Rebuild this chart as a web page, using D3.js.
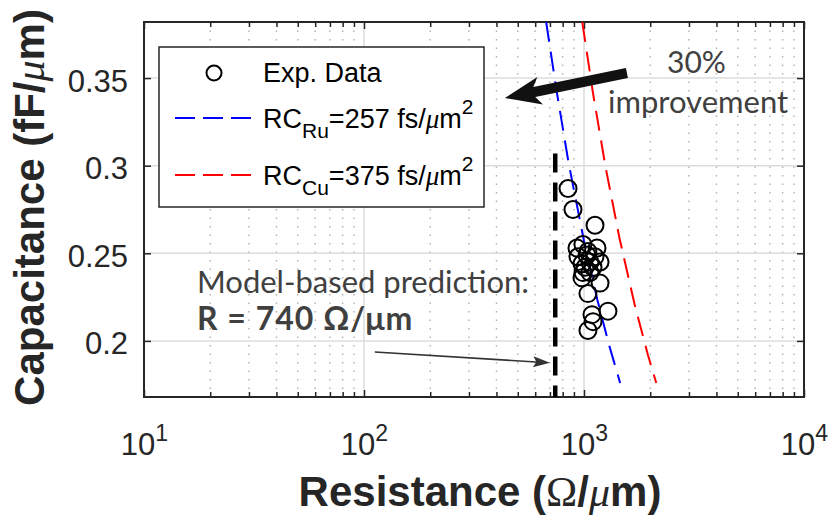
<!DOCTYPE html>
<html>
<head>
<meta charset="utf-8">
<script src="https://cdnjs.cloudflare.com/ajax/libs/d3/7.8.5/d3.min.js"></script>
<style>
  body { margin: 0; background: #fff; }
  svg { display: block; }
</style>
</head>
<body>
<div id="chart"></div>
<script>
// measured data (R in ohm/um, C in fF/um)
var expResistance = [846, 891, 1122, 929, 989, 1146, 939, 1032, 1064, 979, 1183, 1099,
                     989, 1064, 979, 1183, 1042, 1285, 1087, 1099, 1042, 1042, 1122, 1011];
var expCapacitance = [0.287, 0.275, 0.266, 0.253, 0.255, 0.253, 0.248, 0.249, 0.245, 0.244, 0.245, 0.242,
                      0.239, 0.239, 0.236, 0.233, 0.227, 0.217, 0.215, 0.211, 0.206, 0.251, 0.248, 0.242];

// RC lines
var ruLineR = [673, 750, 850, 1000, 1150, 1300, 1460];
var ruLineC = [0.382, 0.343, 0.302, 0.257, 0.2235, 0.1977, 0.176];
var cuLineR = [982, 1100, 1250, 1450, 1700, 1950, 2130];
var cuLineC = [0.382, 0.341, 0.300, 0.2586, 0.2206, 0.1923, 0.176];

var predictionR = 740;
var predictionC = [0.168, 0.307];

var xTickValues = [10, 100, 1000, 10000];
var xTickExponents = ["1", "2", "3", "4"];
var yTickValues = [0.2, 0.25, 0.3, 0.35];
var yTickLabels = ["0.2", "0.25", "0.3", "0.35"];

var width = 828;
var height = 517;
var margin = { top: 22, right: 24, bottom: 120, left: 144 };
var axisFont = "'Liberation Sans', Arial, Helvetica, sans-serif";
var serifFont = "'Liberation Serif', 'Times New Roman', serif";
var noteFont = "Lato, 'Open Sans', sans-serif";

var x = d3.scaleLog().domain([10, 10000]).range([margin.left, width - margin.right]);
var y = d3.scaleLinear().domain([0.168, 0.382]).range([height - margin.bottom, margin.top]);

var minorX = [];
[10, 100, 1000].forEach(function (d) {
  for (var k = 2; k <= 9; k++) minorX.push(d * k);
});

var svg = d3.select("#chart").append("svg").attr("width", width).attr("height", height);

svg.append("defs").append("clipPath").attr("id", "plotclip")
  .append("rect")
  .attr("x", x.range()[0]).attr("y", y.range()[1])
  .attr("width", x.range()[1] - x.range()[0])
  .attr("height", y.range()[0] - y.range()[1]);

// grid
var grid = svg.append("g");
grid.selectAll(".minor").data(minorX).enter().append("line")
  .attr("x1", x).attr("x2", x)
  .attr("y1", y.range()[1]).attr("y2", y.range()[0])
  .attr("stroke", "#b0b0b0").attr("stroke-width", 1.4)
  .attr("stroke-dasharray", "1.5,7");
grid.selectAll(".majorx").data([100, 1000]).enter().append("line")
  .attr("x1", x).attr("x2", x)
  .attr("y1", y.range()[1]).attr("y2", y.range()[0])
  .attr("stroke", "#dcdcdc").attr("stroke-width", 1.5);
grid.selectAll(".majory").data(yTickValues).enter().append("line")
  .attr("x1", x.range()[0]).attr("x2", x.range()[1])
  .attr("y1", y).attr("y2", y)
  .attr("stroke", "#dcdcdc").attr("stroke-width", 1.5);

// ticks on all four sides
function styleAxis(g) {
  g.select(".domain").remove();
  g.selectAll("line").attr("stroke", "#262626").attr("stroke-width", 1.5);
}
var bottom = svg.append("g").attr("transform", "translate(0," + y.range()[0] + ")")
  .call(d3.axisBottom(x).tickValues(xTickValues).tickSize(-7).tickPadding(36).tickFormat(""))
  .call(styleAxis);
svg.append("g").attr("transform", "translate(0," + y.range()[0] + ")")
  .call(d3.axisBottom(x).tickValues(minorX).tickSize(-5).tickFormat(""))
  .call(styleAxis);
svg.append("g").attr("transform", "translate(0," + y.range()[1] + ")")
  .call(d3.axisTop(x).tickValues(xTickValues).tickSize(-7).tickFormat(""))
  .call(styleAxis);
svg.append("g").attr("transform", "translate(0," + y.range()[1] + ")")
  .call(d3.axisTop(x).tickValues(minorX).tickSize(-5).tickFormat(""))
  .call(styleAxis);
var left = svg.append("g").attr("transform", "translate(" + x.range()[0] + ",0)")
  .call(d3.axisLeft(y).tickValues(yTickValues).tickSize(-7).tickPadding(16)
    .tickFormat(function (d, i) { return yTickLabels[i]; }))
  .call(styleAxis);
svg.append("g").attr("transform", "translate(" + x.range()[1] + ",0)")
  .call(d3.axisRight(y).tickValues(yTickValues).tickSize(-7).tickFormat(""))
  .call(styleAxis);

left.selectAll("text")
  .attr("font-family", axisFont).attr("font-size", 31).attr("fill", "#262626")
  .attr("dy", "0.42em");

bottom.selectAll(".tick text")
  .attr("font-family", axisFont).attr("font-size", 31).attr("fill", "#262626")
  .attr("dy", "0.71em")
  .each(function (d, i) {
    var t = d3.select(this);
    t.append("tspan").text("10");
    t.append("tspan").attr("font-size", 23).attr("dy", -14).text(xTickExponents[i]);
  });

// axes box
svg.append("rect")
  .attr("x", x.range()[0]).attr("y", y.range()[1])
  .attr("width", x.range()[1] - x.range()[0])
  .attr("height", y.range()[0] - y.range()[1])
  .attr("fill", "none").attr("stroke", "#262626").attr("stroke-width", 2);

// lines
var plot = svg.append("g").attr("clip-path", "url(#plotclip)");
var line = d3.line().x(function (d) { return x(d[0]); }).y(function (d) { return y(d[1]); });

plot.append("path")
  .datum(ruLineR.map(function (r, i) { return [r, ruLineC[i]]; }))
  .attr("d", line).attr("fill", "none")
  .attr("stroke", "#0000ff").attr("stroke-width", 2).attr("stroke-dasharray", "20,10");
plot.append("path")
  .datum(cuLineR.map(function (r, i) { return [r, cuLineC[i]]; }))
  .attr("d", line).attr("fill", "none")
  .attr("stroke", "#ff0000").attr("stroke-width", 2).attr("stroke-dasharray", "20,10");

plot.append("line")
  .attr("x1", x(predictionR)).attr("x2", x(predictionR))
  .attr("y1", y(predictionC[1])).attr("y2", y(predictionC[0]))
  .attr("stroke", "#000").attr("stroke-width", 4.5).attr("stroke-dasharray", "19,10");

plot.selectAll(".pt").data(expResistance).enter().append("circle")
  .attr("cx", function (d) { return x(d); })
  .attr("cy", function (d, i) { return y(expCapacitance[i]); })
  .attr("r", 8.5)
  .attr("fill", "none").attr("stroke", "#000").attr("stroke-width", 2);

// legend
var legend = svg.append("g");
legend.append("rect")
  .attr("x", 159).attr("y", 47).attr("width", 325).attr("height", 160)
  .attr("fill", "#fff").attr("stroke", "#262626").attr("stroke-width", 1.5);
legend.append("circle").attr("cx", 214).attr("cy", 73).attr("r", 7.5)
  .attr("fill", "none").attr("stroke", "#000").attr("stroke-width", 2);
legend.append("text").attr("x", 263).attr("y", 82)
  .attr("font-family", axisFont).attr("font-size", 27).attr("fill", "#000")
  .text("Exp. Data");

function legendEntry(yPos, color, sub, value) {
  legend.append("line").attr("x1", 175).attr("x2", 255).attr("y1", yPos).attr("y2", yPos)
    .attr("stroke", color).attr("stroke-width", 2).attr("stroke-dasharray", "20,8");
  var t = legend.append("text").attr("x", 263).attr("y", yPos + 10)
    .attr("font-family", axisFont).attr("font-size", 27).attr("fill", "#000");
  t.append("tspan").text("RC");
  t.append("tspan").attr("font-size", 21).attr("dy", 10).text(sub);
  t.append("tspan").attr("dy", -10).text("=" + value + " fs/");
  t.append("tspan").attr("font-family", serifFont).attr("font-style", "italic").text("\u03bc");
  t.append("tspan").text("m");
  t.append("tspan").attr("font-size", 21).attr("dy", -14).text("2");
}
legendEntry(118, "#0000ff", "Ru", 257);
legendEntry(175, "#ff0000", "Cu", 375);

// axis titles
var xTitle = svg.append("text")
  .attr("x", 480).attr("y", 506).attr("text-anchor", "middle")
  .attr("font-family", axisFont).attr("font-weight", "bold").attr("font-size", 42)
  .attr("fill", "#262626");
xTitle.append("tspan").text("Resistance (");
xTitle.append("tspan").attr("font-family", serifFont).attr("font-weight", "normal").text("\u03a9");
xTitle.append("tspan").text("/");
xTitle.append("tspan").attr("font-family", serifFont)
  .attr("font-weight", "normal").attr("font-style", "italic").text("\u03bc");
xTitle.append("tspan").text("m)");

var yTitle = svg.append("text")
  .attr("transform", "translate(44," + ((y.range()[0] + y.range()[1]) / 2 - 2) + ") rotate(-90)")
  .attr("text-anchor", "middle")
  .attr("font-family", axisFont).attr("font-weight", "bold").attr("font-size", 42)
  .attr("fill", "#262626");
yTitle.append("tspan").text("Capacitance (fF/");
yTitle.append("tspan").attr("font-family", serifFont)
  .attr("font-weight", "normal").attr("font-style", "italic").text("\u03bc");
yTitle.append("tspan").text("m)");

// annotations
function arrowPolygon(x0, y0, x1, y1, shaft, headLen, headHalf) {
  var dx = x1 - x0, dy = y1 - y0, len = Math.sqrt(dx * dx + dy * dy);
  var ux = dx / len, uy = dy / len, nx = -uy, ny = ux;
  var bx = x1 - ux * headLen, by = y1 - uy * headLen;
  var back = headLen * 0.2;
  return [
    [x0 + nx * shaft / 2, y0 + ny * shaft / 2],
    [bx + nx * shaft / 2, by + ny * shaft / 2],
    [bx - ux * back + nx * headHalf, by - uy * back + ny * headHalf],
    [x1, y1],
    [bx - ux * back - nx * headHalf, by - uy * back - ny * headHalf],
    [bx - nx * shaft / 2, by - ny * shaft / 2],
    [x0 - nx * shaft / 2, y0 - ny * shaft / 2]
  ].map(function (p) { return p.join(","); }).join(" ");
}

svg.append("polygon")
  .attr("points", arrowPolygon(x(1567), y(0.3529), x(437), y(0.3386), 10, 30, 14))
  .attr("fill", "#111");

svg.append("polygon")
  .attr("points", arrowPolygon(x(112), y(0.1937), x(700), y(0.1875), 1.6, 14, 5.5))
  .attr("fill", "#333");

svg.append("text").attr("x", 667).attr("y", 73)
  .attr("font-family", noteFont).attr("font-size", 30).attr("fill", "#404040")
  .text("30%");
svg.append("text").attr("x", 608).attr("y", 113)
  .attr("font-family", noteFont).attr("font-size", 31).attr("fill", "#404040")
  .text("improvement");
svg.append("text").attr("x", 197).attr("y", 293)
  .attr("font-family", noteFont).attr("font-size", 31).attr("fill", "#404040")
  .text("Model-based prediction:");
svg.append("text").attr("x", 197).attr("y", 330)
  .attr("font-family", noteFont).attr("font-weight", "bold").attr("font-size", 32)
  .attr("letter-spacing", 1).attr("fill", "#404040")
  .text("R = 740 \u03a9/\u03bcm");
</script>
</body>
</html>
